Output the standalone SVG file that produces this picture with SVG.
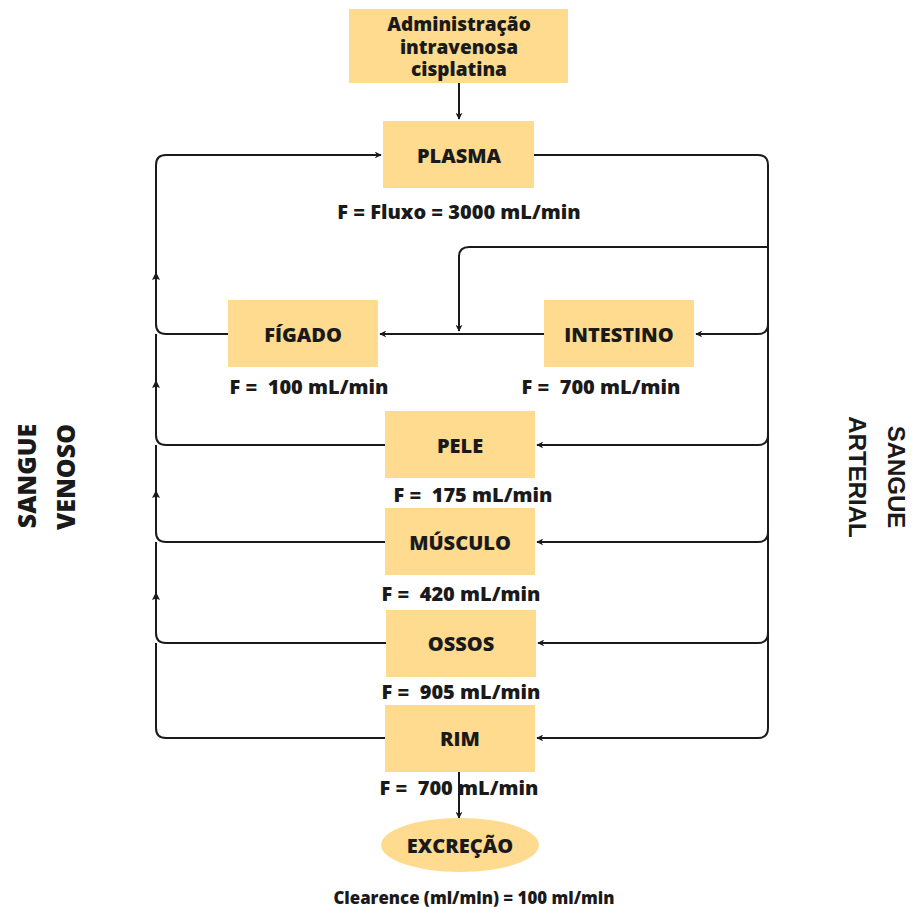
<svg xmlns="http://www.w3.org/2000/svg" width="915" height="908" viewBox="0 0 915 908">
<defs>
<style>
.box{fill:#FEDB8F;}
.t{font-family:"Open Sans","DejaVu Sans",sans-serif;font-weight:800;fill:#1a1a1a;text-anchor:middle;dominant-baseline:central;}
.lbl{font-size:20px;}
.ln{fill:none;stroke:#1a1a1a;stroke-width:2;}
.side{font-size:25px;}
.sideA{font-family:"Liberation Sans",Arial,sans-serif;font-weight:700;fill:#1a1a1a;text-anchor:middle;dominant-baseline:central;font-size:24px;}
.tip{fill:#1a1a1a;}
</style>
<marker id="ah" viewBox="0 0 10 10" refX="9" refY="5" markerWidth="7" markerHeight="7" markerUnits="userSpaceOnUse" orient="auto">
<path d="M0,0 L10,5 L0,10 L3,5 z" fill="#1a1a1a"/>
</marker>
</defs>
<rect width="915" height="908" fill="#ffffff"/>

<g id="connectors">
<path class="ln" d="M459,83 L459,119" marker-end="url(#ah)"/>
<path class="ln" d="M534,155 L758,155 Q768,155 768,165 L768,728 Q768,738 758,738 L537,738" marker-end="url(#ah)"/>
<path class="ln" d="M768,247 L469,247 Q459,247 459,257 L459,331" marker-end="url(#ah)"/>
<path class="ln" d="M768,324 Q768,334 758,334 L696,334" marker-end="url(#ah)"/>
<path class="ln" d="M544,334 L380,334" marker-end="url(#ah)"/>
<path class="ln" d="M768,435 Q768,445 758,445 L537,445" marker-end="url(#ah)"/>
<path class="ln" d="M768,532 Q768,542 758,542 L537,542" marker-end="url(#ah)"/>
<path class="ln" d="M768,633 Q768,643 758,643 L538,643" marker-end="url(#ah)"/>
<path class="ln" d="M228,334 L166,334 Q156,334 156,324 L156,165 Q156,155 166,155 L381,155" marker-end="url(#ah)"/>
<path class="ln" d="M385,445 L166,445 Q156,445 156,435 L156,334"/>
<path class="ln" d="M385,542 L166,542 Q156,542 156,532 L156,445"/>
<path class="ln" d="M386,643 L166,643 Q156,643 156,633 L156,542"/>
<path class="ln" d="M385,738 L166,738 Q156,738 156,728 L156,643"/>
<polygon class="tip" points="156,272 152,280 156,278.5 160,280"/>
<polygon class="tip" points="156,380 152,388 156,386.5 160,388"/>
<polygon class="tip" points="156,490 152,498 156,496.5 160,498"/>
<polygon class="tip" points="156,592 152,600 156,598.5 160,600"/>
<path class="ln" d="M459,772 L459,818" marker-end="url(#ah)"/>
</g>

<g id="admin">
<rect class="box" x="349" y="9" width="219" height="74"/>
<text class="t lbl" style="font-size:19px" x="459" y="24">Administração<tspan x="459" dy="22.5">intravenosa</tspan><tspan x="459" dy="22.5">cisplatina</tspan></text>
</g>
<g id="plasma">
<rect class="box" x="383" y="121" width="151" height="67"/>
<text class="t lbl" x="459" y="155">PLASMA</text>
<text class="t lbl" x="459" y="211">F = Fluxo = 3000 mL/min</text>
</g>
<g id="figado">
<rect class="box" x="228" y="300" width="150" height="67"/>
<text class="t lbl" x="303" y="334">FÍGADO</text>
<text class="t lbl" x="309" y="386" xml:space="preserve">F =  100 mL/min</text>
</g>
<g id="intestino">
<rect class="box" x="544" y="300" width="150" height="67"/>
<text class="t lbl" x="619" y="334">INTESTINO</text>
<text class="t lbl" x="601" y="386" xml:space="preserve">F =  700 mL/min</text>
</g>
<g id="pele">
<rect class="box" x="385" y="411" width="150" height="67"/>
<text class="t lbl" x="460" y="445">PELE</text>
<text class="t lbl" x="473" y="494" xml:space="preserve">F =  175 mL/min</text>
</g>
<g id="musculo">
<rect class="box" x="385" y="508" width="150" height="67"/>
<text class="t lbl" x="460" y="542">MÚSCULO</text>
<text class="t lbl" x="461" y="593" xml:space="preserve">F =  420 mL/min</text>
</g>
<g id="ossos">
<rect class="box" x="386" y="610" width="150" height="67"/>
<text class="t lbl" x="461" y="643">OSSOS</text>
<text class="t lbl" x="461" y="691" xml:space="preserve">F =  905 mL/min</text>
</g>
<g id="rim">
<rect class="box" x="385" y="705" width="150" height="67"/>
<text class="t lbl" x="460" y="738">RIM</text>
<text class="t lbl" x="459" y="787" xml:space="preserve">F =  700 mL/min</text>
</g>
<g id="excrecao">
<ellipse class="box" cx="460" cy="845" rx="79" ry="27"/>
<text class="t lbl" x="460" y="845">EXCREÇÃO</text>
<text class="t" style="font-size:16.8px" x="474" y="897">Clearence (ml/min) = 100 ml/min</text>
</g>
<g id="venoso">
<text class="t side" transform="translate(26,476) rotate(-90)">SANGUE</text>
<text class="t side" transform="translate(65,477) rotate(-90)">VENOSO</text>
</g>
<g id="arterial">
<text class="sideA" transform="translate(896,477) rotate(90)">SANGUE</text>
<text class="sideA" transform="translate(857,477) rotate(90)">ARTERIAL</text>
</g>
</svg>
